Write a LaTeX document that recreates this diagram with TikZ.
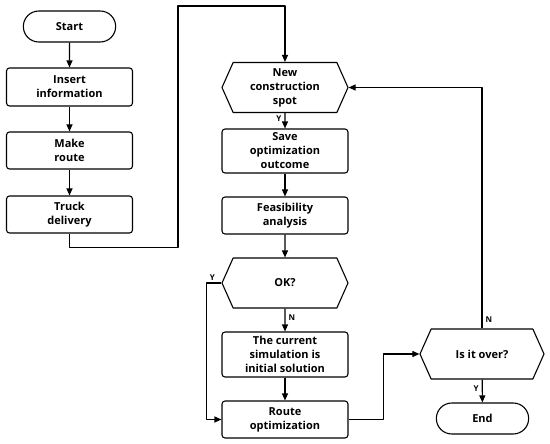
\documentclass[tikz,border=0pt]{standalone}
\usepackage{fontspec}
\setmainfont{Open Sans}
\usetikzlibrary{arrows.meta,shapes.misc,shapes.symbols}

\begin{document}
\begin{tikzpicture}[x=1pt,y=-1pt,font=\bfseries\fontsize{11}{14}\selectfont,
  >={Triangle[length=7pt,width=6pt]},line width=1.1pt,line join=round,
  proc/.style={draw,rounded corners=3pt,minimum width=126pt,align=center,inner sep=2pt},
  term/.style={draw,rounded rectangle,minimum width=99pt,minimum height=31pt},
  hexa/.style={draw,signal,signal to=west and east,signal pointer angle=132,
    minimum width=126pt,minimum height=50pt,align=center,inner sep=2pt},
  tag/.style={font=\bfseries\fontsize{8}{8}\selectfont,inner sep=1pt}]
  \useasboundingbox (0,0) rectangle (550,444);

  % Left column
  \node[term] (start) at (69.5,26.5) {Start};
  \node[proc,minimum height=38pt] (ins) at (69.5,87) {Insert\\information};
  \node[proc,minimum height=37pt] (mk) at (69.5,150.5) {Make\\route};
  \node[proc,minimum height=37pt] (trk) at (69.5,214.5) {Truck\\delivery};
  \draw[->] (start) -- (ins);
  \draw[->] (ins) -- (mk);
  \draw[->] (mk) -- (trk);

  % Middle column
  \node[hexa] (spot) at (285,87.5) {New\\construction\\spot};
  \node[proc,minimum height=44pt] (save) at (285,151) {Save\\optimization\\outcome};
  \node[proc,minimum height=37pt] (feas) at (285,215.5) {Feasibility\\analysis};
  \node[hexa] (ok) at (285,283) {OK?};
  \node[proc,minimum height=45pt] (cur) at (285,354.5) {The current\\simulation is\\initial solution};
  \node[proc,minimum height=37pt] (rte) at (285,419.5) {Route\\optimization};
  \draw[->] (trk.south) -- ++(0,14) -| (178,6) -| (spot.north);
  \draw[->] (spot) -- (save) node[tag,pos=.35,left=2pt] {Y};
  \draw[->] (save) -- (feas);
  \draw[->] (feas) -- (ok);
  \draw[->] (ok) -- (cur) node[tag,pos=.4,right=2pt] {N};
  \draw[->] (cur) -- (rte);
  \draw[->] (ok.west) -- ++(-15,0) node[tag,above=1pt,pos=.6] {Y} |- (rte.west);

  % Right column
  \node[hexa,minimum width=124pt] (over) at (482,354) {Is it over?};
  \node[term] (stop) at (482.5,418.5) {End};
  \draw[->] (rte.east) -- ++(35,0) |- (over.west);
  \draw[->] (over.north) |- (spot.east);
  \node[tag,anchor=west] (no) at (484,320) {N};
  \draw[->] (over) -- (stop) node[tag,pos=.4,left=2pt] {Y};
\end{tikzpicture}
\end{document}
